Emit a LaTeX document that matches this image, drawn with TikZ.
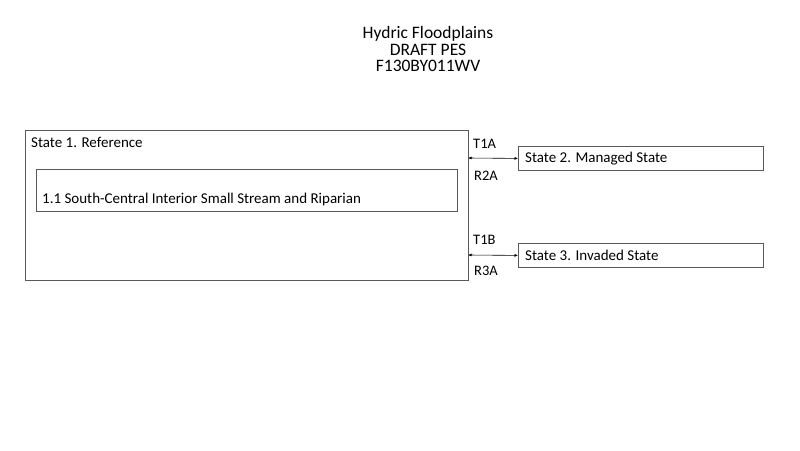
\documentclass[tikz,border=0pt]{standalone}
\usepackage{fontspec}
\setmainfont{Carlito}
\usetikzlibrary{arrows.meta}
\begin{document}
\begin{tikzpicture}[x=1pt,y=-1pt,
  box/.style={draw=black!65,line width=0.8pt},
  txt/.style={font=\fontsize{15}{17}\selectfont,inner sep=0pt,anchor=west},
  lbl/.style={font=\fontsize{14.5}{17}\selectfont,inner sep=0pt,anchor=west},
  conn/.style={draw=black,line width=0.6pt,{Latex[length=3.5pt,width=3pt]}-{Latex[length=3.5pt,width=3pt]}}]
\useasboundingbox[fill=white] (0,0) rectangle (800,450);
\node[font=\fontsize{17.5}{16.5}\selectfont,align=center,inner sep=0pt] (title) at (428,49)
  {Hydric Floodplains\\DRAFT PES\\F130BY011WV};
\draw[box] (25,130) rectangle (468,280);
\coordinate (s1e2) at (468,158);
\coordinate (s1e3) at (468,255);
\node[txt] (s1) at (31,142) {State 1. Reference};
\draw[box] (36,169) rectangle (457,211);
\node[txt] (c11) at (42,199.5) {1.1 South-Central Interior Small Stream and Riparian};
\node[box,minimum width=245pt,minimum height=24pt,anchor=north west,inner sep=0pt] (s2) at (518,146) {};
\node[txt] (s2t) at (525,158.5) {State 2. Managed State};
\node[box,minimum width=245pt,minimum height=24pt,anchor=north west,inner sep=0pt] (s3) at (518,243) {};
\node[txt] (s3t) at (525,255.5) {State 3. Invaded State};
\draw[conn] (s1e2) -- (s2.west);
\draw[conn] (s1e3) -- (s3.west);
\node[lbl] (t1a) at (473,144) {T1A};
\node[lbl] (r2a) at (474,176) {R2A};
\node[lbl] (t1b) at (473,240) {T1B};
\node[lbl] (r3a) at (474,271) {R3A};
\end{tikzpicture}
\end{document}
